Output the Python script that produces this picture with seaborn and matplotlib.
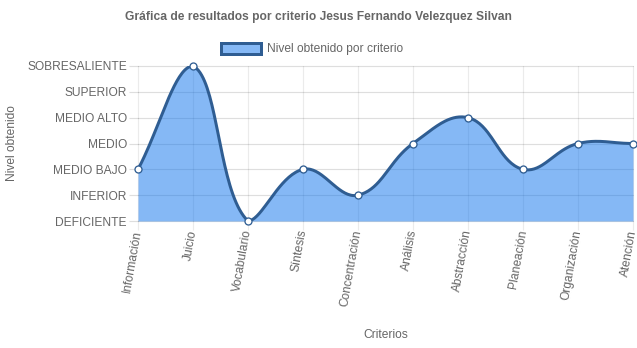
import numpy as np
import pandas as pd
import matplotlib
matplotlib.use("Agg")
import matplotlib.pyplot as plt
import seaborn as sns
from matplotlib.patches import Patch

# ---------------- data ----------------
categorias = ["Información", "Juicio", "Vocabulario", "Síntesis", "Concentración",
              "Análisis", "Abstracción", "Planeación", "Organización", "Atención"]
niveles = ["DEFICIENTE", "INFERIOR", "MEDIO BAJO", "MEDIO", "MEDIO ALTO",
           "SUPERIOR", "SOBRESALIENTE"]
valores = [2, 6, 0, 2, 1, 3, 4, 2, 3, 3]
titulo = "Gráfica de resultados por criterio Jesus Fernando Velezquez Silvan"
serie = "Nivel obtenido por criterio"

# ---------------- style ----------------
sns.set_theme(style="white")
plt.rcParams["font.family"] = ["Liberation Sans", "DejaVu Sans"]
TXT = "#666666"
FILL = (13 / 255, 115 / 255, 236 / 255, 0.5)
LINE = "#2f5d92"
PX = 0.72  # points per pixel at dpi 100
FS = 12 * PX

W, H = 637, 348
fig = plt.figure(figsize=(W / 100, H / 100), dpi=100)
L, R, T, B = 138, 633, 66, 221
ax = fig.add_axes([L / W, 1 - B / H, (R - L) / W, (B - T) / H])

df = pd.DataFrame({"idx": np.arange(len(categorias)), "valor": valores})
ax.set_xlim(0, len(categorias) - 1)
ax.set_ylim(0, len(niveles) - 1)

# ---- Chart.js-like spline (tension 0.4) computed in pixel space ----
pts = ax.transData.transform(np.column_stack([df["idx"], df["valor"]]).astype(float))
x0p, y0p = ax.transData.transform((0, 0))
x1p, y1p = ax.transData.transform((len(categorias) - 1, len(niveles) - 1))
t = 0.4
n = len(pts)
cp_prev = np.zeros_like(pts)
cp_next = np.zeros_like(pts)
for i in range(n):
    p = pts[max(i - 1, 0)]
    c = pts[i]
    nx = pts[min(i + 1, n - 1)]
    d01 = np.hypot(*(c - p))
    d12 = np.hypot(*(nx - c))
    s01 = d01 / (d01 + d12) if d01 + d12 > 0 else 0
    s12 = d12 / (d01 + d12) if d01 + d12 > 0 else 0
    cp_prev[i] = c - t * s01 * (nx - p)
    cp_next[i] = c + t * s12 * (nx - p)
for arr in (cp_prev, cp_next):
    arr[:, 0] = np.clip(arr[:, 0], min(x0p, x1p), max(x0p, x1p))
    arr[:, 1] = np.clip(arr[:, 1], min(y0p, y1p), max(y0p, y1p))

curve = [pts[0]]
ts = np.linspace(0, 1, 40)[1:]
for i in range(n - 1):
    P0, P1, P2, P3 = pts[i], cp_next[i], cp_prev[i + 1], pts[i + 1]
    for u in ts:
        curve.append((1 - u) ** 3 * P0 + 3 * (1 - u) ** 2 * u * P1
                     + 3 * (1 - u) * u ** 2 * P2 + u ** 3 * P3)
curve = ax.transData.inverted().transform(np.array(curve))

# grid
for yv in range(len(niveles)):
    ax.axhline(yv, color=(0, 0, 0, 0.13), lw=1 * PX * 1.2, zorder=0, clip_on=False)
for xv in range(len(categorias)):
    ax.axvline(xv, color=(0, 0, 0, 0.08), lw=1 * PX * 1.2, zorder=0, clip_on=False)

ax.fill_between(curve[:, 0], curve[:, 1], 0, color=FILL, lw=0, zorder=1)
ax.plot(curve[:, 0], curve[:, 1], color=LINE, lw=3 * PX, zorder=2,
        solid_capstyle="round")
sns.scatterplot(data=df, x="idx", y="valor", ax=ax, s=(7 * PX) ** 2, color="white",
                edgecolor=LINE, linewidth=1.3 * PX, zorder=3, clip_on=False)

for s in ax.spines.values():
    s.set_visible(False)

ax.set_yticks(range(len(niveles)))
ax.set_yticklabels(niveles)
ax.set_xticks(range(len(categorias)))
ax.set_xticklabels(categorias)
ax.tick_params(axis="y", length=9 * PX, width=1.2 * PX, color=(0, 0, 0, 0.13),
               pad=2 * PX, labelsize=FS, labelcolor=TXT, left=True)
ax.tick_params(axis="x", length=9 * PX, width=1.2 * PX, color=(0, 0, 0, 0.08),
               pad=0, labelsize=FS, labelcolor=TXT, bottom=True)
for lab in ax.get_xticklabels():
    lab.set_rotation(80)
    lab.set_ha("right")
    lab.set_va("center")
    lab.set_rotation_mode("anchor")

ax.set_xlabel("Criterios", fontsize=FS, color=TXT)
ax.xaxis.set_label_coords(0.5, 1 - (329 - T) / (B - T))
ax.set_ylabel("Nivel obtenido", fontsize=FS, color=TXT)
ax.yaxis.set_label_coords((18 - L) / (R - L), 1 - (143 - T) / (B - T))

fig.text(318 / W, 1 - 17 / H, titulo, ha="center", va="center",
         fontsize=FS, fontweight="bold", color=TXT)

handle = Patch(facecolor=FILL, edgecolor=LINE, linewidth=3 * PX)
fig.legend([handle], [serie], loc="center", bbox_to_anchor=(312.5 / W, 1 - 49 / H),
           frameon=False, fontsize=FS, labelcolor=TXT, handlelength=40 / 12,
           handleheight=1.0, handletextpad=0.5, borderpad=0, borderaxespad=0)

fig.savefig("out.png", dpi=100)
